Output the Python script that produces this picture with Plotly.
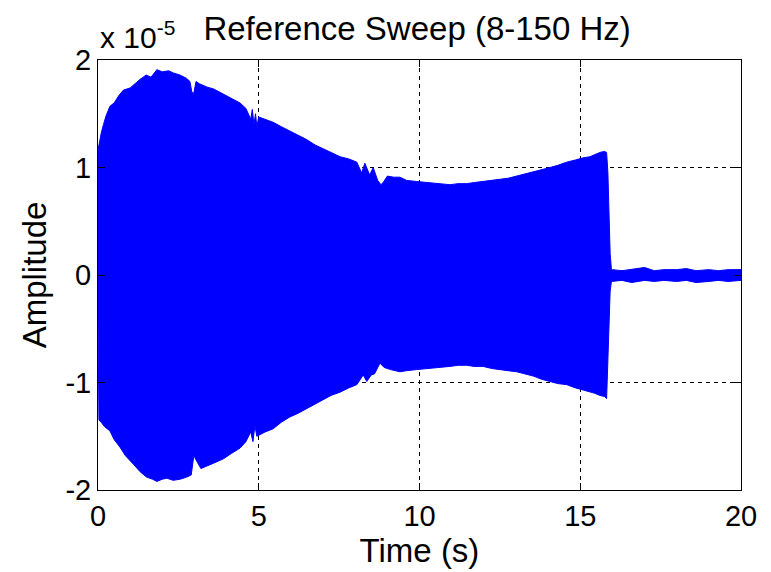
import plotly.graph_objects as go

SCALE = 1e-5

# Upper envelope of the sweep (time in s, amplitude in units of 1e-5)
t_upper = [0, 0.03, 0.1, 0.17, 0.25, 0.37, 0.5, 0.65, 0.79, 1.0, 1.15, 1.31, 1.5, 1.65,
           1.83, 2.0, 2.2, 2.34, 2.55, 2.75, 2.86, 2.92, 2.98, 3.05, 3.15, 3.38, 3.6,
           3.9, 4.15, 4.42, 4.6, 4.75, 4.8, 4.85, 4.9, 4.94, 5.0, 5.2, 5.45, 5.7, 5.97,
           6.2, 6.49, 6.75, 7.01, 7.25, 7.53, 7.8, 8.05, 8.2, 8.3, 8.45, 8.56, 8.7,
           8.8, 8.87, 9.0, 9.2, 9.39, 9.6, 9.91, 10.2, 10.5, 10.95, 11.2, 11.47, 11.7,
           11.98, 12.25, 12.5, 12.75, 13.02, 13.3, 13.54, 13.8, 14.06, 14.3, 14.58,
           14.85, 15.09, 15.3, 15.45, 15.61, 15.75, 15.82, 15.86, 15.9, 15.93, 15.97]
amp_upper = [1.16, 1.22, 1.32, 1.40, 1.48, 1.57, 1.60, 1.67, 1.72, 1.74, 1.78, 1.82, 1.86,
             1.84, 1.91, 1.89, 1.90, 1.88, 1.86, 1.83, 1.80, 1.70, 1.69, 1.80, 1.78, 1.75,
             1.73, 1.68, 1.64, 1.60, 1.55, 1.45, 1.54, 1.40, 1.50, 1.38, 1.47, 1.45, 1.42,
             1.38, 1.34, 1.30, 1.26, 1.21, 1.17, 1.14, 1.10, 1.08, 1.05, 0.95, 1.04, 0.93,
             1.00, 0.88, 0.84, 0.86, 0.92, 0.91, 0.91, 0.88, 0.87, 0.86, 0.85, 0.84, 0.85,
             0.85, 0.86, 0.87, 0.88, 0.89, 0.90, 0.92, 0.94, 0.96, 0.98, 1.00, 1.02, 1.05,
             1.07, 1.09, 1.10, 1.12, 1.14, 1.15, 1.14, 0.95, 0.48, 0.20, 0.05]

# Lower envelope of the sweep
t_lower = [0, 0.03, 0.1, 0.2, 0.37, 0.5, 0.68, 0.85, 1.1, 1.31, 1.51, 1.7, 1.83, 2.0,
           2.14, 2.34, 2.55, 2.76, 2.9, 2.98, 3.05, 3.2, 3.38, 3.6, 3.9, 4.15, 4.42,
           4.6, 4.75, 4.82, 4.88, 4.94, 5.2, 5.45, 5.7, 5.97, 6.2, 6.49, 6.75, 7.01,
           7.25, 7.53, 7.8, 8.05, 8.25, 8.36, 8.5, 8.6, 8.77, 8.9, 9.1, 9.39, 9.6, 9.91,
           10.2, 10.5, 10.95, 11.2, 11.47, 11.7, 11.98, 12.25, 12.5, 12.75, 13.02, 13.3,
           13.54, 13.8, 14.06, 14.3, 14.58, 14.85, 15.09, 15.3, 15.45, 15.61, 15.75,
           15.82, 15.86, 15.9, 15.93, 15.97]
amp_lower = [-0.42, -1.35, -1.37, -1.41, -1.45, -1.53, -1.60, -1.68, -1.76, -1.83, -1.88,
             -1.90, -1.92, -1.90, -1.89, -1.91, -1.90, -1.88, -1.86, -1.68, -1.72, -1.80,
             -1.78, -1.75, -1.71, -1.66, -1.61, -1.55, -1.46, -1.55, -1.40, -1.50, -1.46,
             -1.43, -1.37, -1.32, -1.29, -1.24, -1.20, -1.16, -1.12, -1.09, -1.05, -1.02,
             -0.93, -0.99, -0.93, -0.92, -0.82, -0.86, -0.88, -0.90, -0.89, -0.88, -0.87,
             -0.86, -0.85, -0.84, -0.84, -0.85, -0.85, -0.87, -0.88, -0.89, -0.90, -0.92,
             -0.94, -0.97, -0.99, -1.01, -1.02, -1.05, -1.07, -1.09, -1.10, -1.12, -1.13,
             -1.15, -0.70, -0.45, -0.15, -0.06]

# Residual noise after the sweep ends
t_tail = [16.0, 16.3, 16.6, 17.0, 17.3, 17.6, 18.0, 18.3, 18.6, 19.0, 19.3, 19.6, 20.0]
amp_tail_upper = [0.05, 0.04, 0.05, 0.07, 0.04, 0.05, 0.05, 0.06, 0.04, 0.05, 0.04, 0.05, 0.05]
amp_tail_lower = [-0.06, -0.05, -0.07, -0.05, -0.06, -0.05, -0.06, -0.05, -0.07, -0.06,
                  -0.05, -0.06, -0.05]

x_ticks = [0, 5, 10, 15, 20]
y_ticks = [-2, -1, 0, 1, 2]

BLUE = "#0000ff"
FONT = "Liberation Sans, Arial, sans-serif"

up_t = t_upper + t_tail
up_a = amp_upper + amp_tail_upper
lo_t = t_lower + t_tail
lo_a = amp_lower + amp_tail_lower

poly_x = up_t + lo_t[::-1]
poly_y = [a * SCALE for a in up_a] + [a * SCALE for a in lo_a[::-1]]

fig = go.Figure()
fig.add_trace(go.Scatter(
    x=poly_x, y=poly_y, mode="lines", fill="toself",
    fillcolor=BLUE, line=dict(color=BLUE, width=1),
    hoverinfo="skip", showlegend=False,
))

axis_common = dict(
    showline=True, linecolor="#000000", linewidth=1, mirror="allticks",
    ticks="inside", ticklen=7, tickcolor="#000000",
    showgrid=True, gridcolor="#000000", gridwidth=1, griddash="4px,4px",
    zeroline=False, tickfont=dict(family=FONT, size=29, color="#000000"),
)

fig.update_layout(
    width=771, height=572,
    margin=dict(l=98, r=30, t=60, b=82),
    paper_bgcolor="#ffffff", plot_bgcolor="#ffffff",
    font=dict(family=FONT, size=29, color="#000000"),
    title=dict(text="Reference Sweep (8-150 Hz)", x=0.541, xanchor="center",
               y=0.95, yanchor="middle", font=dict(family=FONT, size=33)),
    xaxis=dict(range=[0, 20], tickvals=x_ticks, ticktext=[str(v) for v in x_ticks],
               title=dict(text="Time (s)", standoff=2, font=dict(size=33)), **axis_common),
    yaxis=dict(range=[-2 * SCALE, 2 * SCALE], tickvals=[v * SCALE for v in y_ticks],
               ticktext=[str(v) for v in y_ticks],
               title=dict(text="Amplitude", standoff=8, font=dict(size=33)), **axis_common),
    annotations=[dict(
        text="x 10<sup>-5</sup>", xref="paper", yref="paper", x=0, y=1,
        xanchor="left", yanchor="bottom", showarrow=False, yshift=4,
        font=dict(family=FONT, size=30, color="#000000"),
    )],
)

fig.write_html("out.html")
